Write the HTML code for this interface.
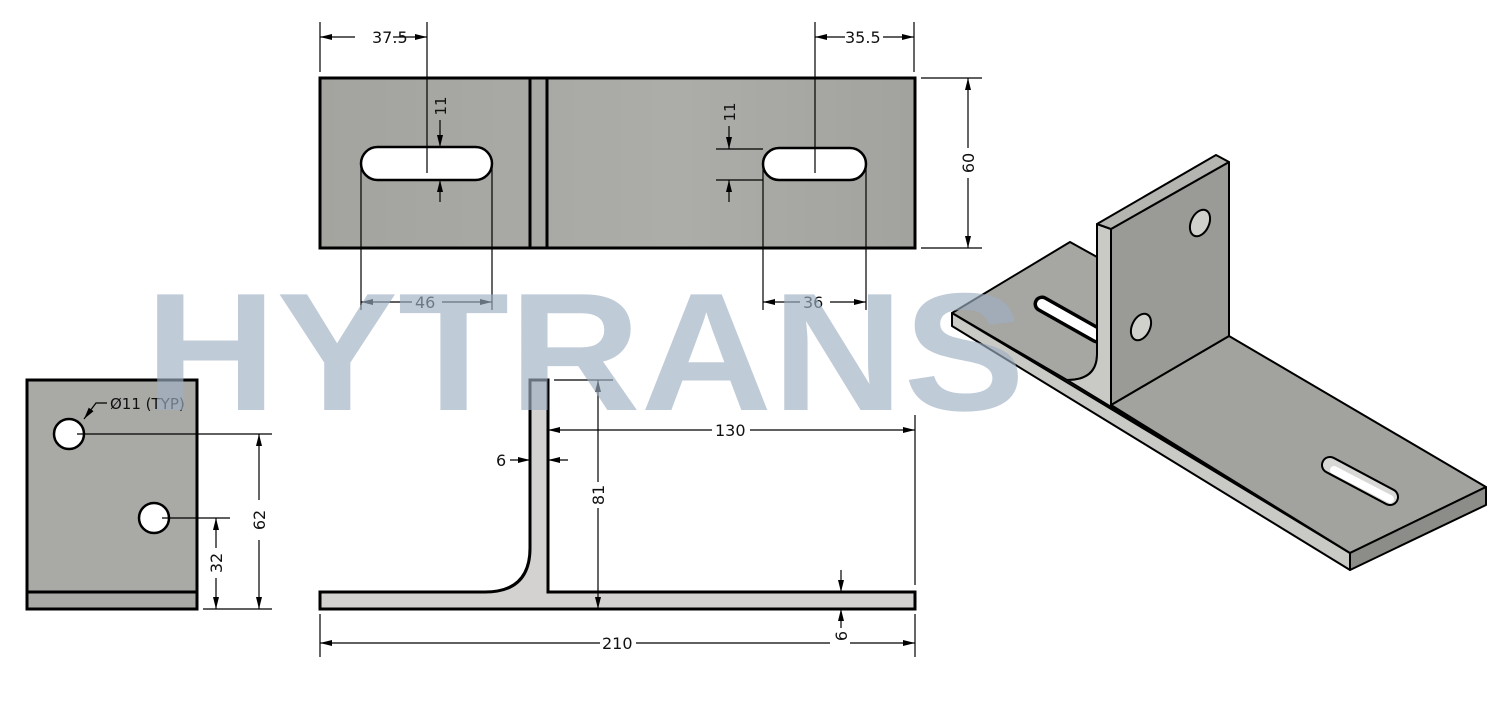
<!DOCTYPE html>
<html><head><meta charset="utf-8"><style>
html,body{margin:0;padding:0;background:#fff;}
svg{display:block;}
text{font-family:"DejaVu Sans","Liberation Sans",sans-serif;font-size:15px;fill:#111;}
</style></head><body>
<svg width="1508" height="714" viewBox="0 0 1508 714" xmlns="http://www.w3.org/2000/svg">
<defs>
<marker id="a" viewBox="0 0 12 6" refX="12" refY="3" markerWidth="12" markerHeight="6" markerUnits="userSpaceOnUse" orient="auto-start-reverse"><path d="M0,0 L12,3 L0,6 z" fill="#000"/></marker>
<linearGradient id="g1" x1="0" x2="1"><stop offset="0" stop-color="#a3a39f"/><stop offset="0.6" stop-color="#acaca8"/><stop offset="1" stop-color="#a2a29e"/></linearGradient>
</defs>

<!-- TOP VIEW -->
<rect x="320" y="78" width="595" height="170" fill="url(#g1)" stroke="#000" stroke-width="3"/>
<line x1="530" y1="78" x2="530" y2="248" stroke="#000" stroke-width="3"/>
<line x1="547" y1="78" x2="547" y2="248" stroke="#000" stroke-width="3"/>
<rect x="361" y="147" width="131" height="33" rx="16.5" fill="#fff" stroke="#000" stroke-width="2.5"/>
<rect x="763" y="148" width="103" height="32" rx="16" fill="#fff" stroke="#000" stroke-width="2.5"/>
<g stroke="#000" stroke-width="1.2" fill="none">
<line x1="320" y1="22" x2="320" y2="72"/><line x1="427" y1="22" x2="427" y2="173"/>
<line x1="320" y1="37" x2="355" y2="37" marker-start="url(#a)"/><line x1="393" y1="37" x2="427" y2="37" marker-end="url(#a)"/>
<line x1="815" y1="22" x2="815" y2="173"/><line x1="914" y1="22" x2="914" y2="72"/>
<line x1="815" y1="37" x2="845" y2="37" marker-start="url(#a)"/><line x1="883" y1="37" x2="914" y2="37" marker-end="url(#a)"/>
<line x1="921" y1="78" x2="982" y2="78"/><line x1="921" y1="248" x2="982" y2="248"/>
<line x1="968" y1="78" x2="968" y2="148" marker-start="url(#a)"/><line x1="968" y1="178" x2="968" y2="248" marker-end="url(#a)"/>
<line x1="361" y1="165" x2="361" y2="310"/><line x1="492" y1="165" x2="492" y2="310"/>
<line x1="361" y1="302" x2="412" y2="302" marker-start="url(#a)"/><line x1="442" y1="302" x2="492" y2="302" marker-end="url(#a)"/>
<line x1="763" y1="165" x2="763" y2="310"/><line x1="866" y1="165" x2="866" y2="310"/>
<line x1="763" y1="302" x2="800" y2="302" marker-start="url(#a)"/><line x1="830" y1="302" x2="866" y2="302" marker-end="url(#a)"/>
<line x1="440" y1="120" x2="440" y2="147" marker-end="url(#a)"/><line x1="440" y1="202" x2="440" y2="180" marker-end="url(#a)"/>
<line x1="716" y1="149" x2="763" y2="149"/><line x1="716" y1="180" x2="763" y2="180"/>
<line x1="729" y1="126" x2="729" y2="149" marker-end="url(#a)"/><line x1="729" y1="202" x2="729" y2="180" marker-end="url(#a)"/>
</g>
<text x="372" y="43" style="font-size:16px">37.5</text>
<text x="845" y="43" style="font-size:16px">35.5</text>
<text x="415" y="308" style="font-size:16px">46</text>
<text x="803" y="308" style="font-size:16px">36</text>
<text transform="translate(974,163) rotate(-90)" text-anchor="middle" style="font-size:16px">60</text>
<text transform="translate(446,106) rotate(-90)" text-anchor="middle">11</text>
<text transform="translate(735,112) rotate(-90)" text-anchor="middle">11</text>

<!-- SIDE VIEW -->
<rect x="27" y="380" width="170" height="229" fill="#a9a9a5" stroke="#000" stroke-width="3"/>
<line x1="27" y1="592" x2="197" y2="592" stroke="#000" stroke-width="3"/>
<circle cx="69" cy="434" r="15" fill="#fff" stroke="#000" stroke-width="2.5"/>
<circle cx="154" cy="518" r="15" fill="#fff" stroke="#000" stroke-width="2.5"/>
<g stroke="#000" stroke-width="1.2" fill="none">
<polyline points="107,403 96,403 84,419" marker-end="url(#a)"/>
<line x1="77" y1="434" x2="272" y2="434"/><line x1="162" y1="518" x2="230" y2="518"/>
<line x1="203" y1="609" x2="272" y2="609"/>
<line x1="259" y1="434" x2="259" y2="500" marker-start="url(#a)"/><line x1="259" y1="540" x2="259" y2="609" marker-end="url(#a)"/>
<line x1="216" y1="518" x2="216" y2="548" marker-start="url(#a)"/><line x1="216" y1="578" x2="216" y2="609" marker-end="url(#a)"/>
</g>
<text x="110" y="409" style="font-size:15px">Ø11 (TYP)</text>
<text transform="translate(265,520) rotate(-90)" text-anchor="middle" style="font-size:16px">62</text>
<text transform="translate(222,563) rotate(-90)" text-anchor="middle" style="font-size:16px">32</text>

<!-- FRONT VIEW -->
<path d="M530,380 H548 V592 H915 V609 H320 V592 H485 Q530,592 530,548 Z" fill="#d3d2d0" stroke="#000" stroke-width="3" stroke-linejoin="miter"/>
<g stroke="#000" stroke-width="1.2" fill="none">
<line x1="554" y1="380" x2="613" y2="380"/>
<line x1="598" y1="380" x2="598" y2="482" marker-start="url(#a)"/><line x1="598" y1="508" x2="598" y2="609" marker-end="url(#a)"/>
<line x1="548" y1="430" x2="712" y2="430" marker-start="url(#a)"/><line x1="750" y1="430" x2="915" y2="430" marker-end="url(#a)"/>
<line x1="915" y1="415" x2="915" y2="585"/>
<line x1="510" y1="460" x2="530" y2="460" marker-end="url(#a)"/><line x1="568" y1="460" x2="548" y2="460" marker-end="url(#a)"/>
<line x1="841" y1="570" x2="841" y2="592" marker-end="url(#a)"/><line x1="841" y1="628" x2="841" y2="609" marker-end="url(#a)"/>
<line x1="320" y1="614" x2="320" y2="657"/><line x1="915" y1="614" x2="915" y2="657"/>
<line x1="320" y1="643" x2="600" y2="643" marker-start="url(#a)"/><line x1="636" y1="643" x2="830" y2="643"/><line x1="850" y1="643" x2="915" y2="643" marker-end="url(#a)"/>
</g>
<text x="715" y="436" style="font-size:16px">130</text>
<text x="496" y="466" style="font-size:16px">6</text>
<text transform="translate(604,495) rotate(-90)" text-anchor="middle" style="font-size:16px">81</text>
<text x="602" y="649" style="font-size:16px">210</text>
<text transform="translate(847,636) rotate(-90)" text-anchor="middle" style="font-size:16px">6</text>

<!-- ISOMETRIC -->
<g stroke="#000" stroke-width="2" stroke-linejoin="round">
<path d="M952,313 L1070,242 L1097,257 L1097,354 Q1097,380 1067,380 Z" fill="#a6a6a2"/>
<line x1="1042" y1="304" x2="1097" y2="335" stroke="#000" stroke-width="17" stroke-linecap="round"/>
<line x1="1042" y1="304" x2="1097" y2="335" stroke="#fff" stroke-width="10" stroke-linecap="round"/>
<polygon points="952,313 1350,553 1350,570 952,326" fill="#c9c9c5"/>
<path d="M1097,224 L1111,229 L1111,405 L1350,553 L1067,380 Q1097,380 1097,354 Z" fill="#c9c9c5"/>
<polygon points="1111,405 1229,336 1486,487 1350,553" fill="#a2a29e"/>
<polygon points="1350,553 1486,487 1486,505 1350,570" fill="#8c8c88"/>
<polygon points="1111,229 1229,162 1229,336 1111,405" fill="#9a9a97"/>
<polygon points="1097,224 1216,155 1229,162 1111,229" fill="#b4b4b0"/>
<line x1="1330" y1="465" x2="1390" y2="497" stroke="#000" stroke-width="18" stroke-linecap="round"/>
<line x1="1330" y1="465" x2="1390" y2="497" stroke="#d8d8d6" stroke-width="14" stroke-linecap="round"/>
<line x1="1334" y1="470" x2="1390" y2="499" stroke="#fff" stroke-width="8" stroke-linecap="round"/>
<ellipse cx="1200" cy="223" rx="9" ry="14" transform="rotate(25 1200 223)" fill="#d0d0cc"/>
<ellipse cx="1141" cy="327" rx="9" ry="14" transform="rotate(25 1141 327)" fill="#d0d0cc"/>
</g>

<!-- WATERMARK -->
<text x="145" y="410" textLength="880" lengthAdjust="spacingAndGlyphs" style="font-family:'Liberation Sans',sans-serif;font-weight:bold;font-size:168px;fill:#9fb0c4;opacity:0.65">HYTRANS</text>
</svg>
</body></html>
